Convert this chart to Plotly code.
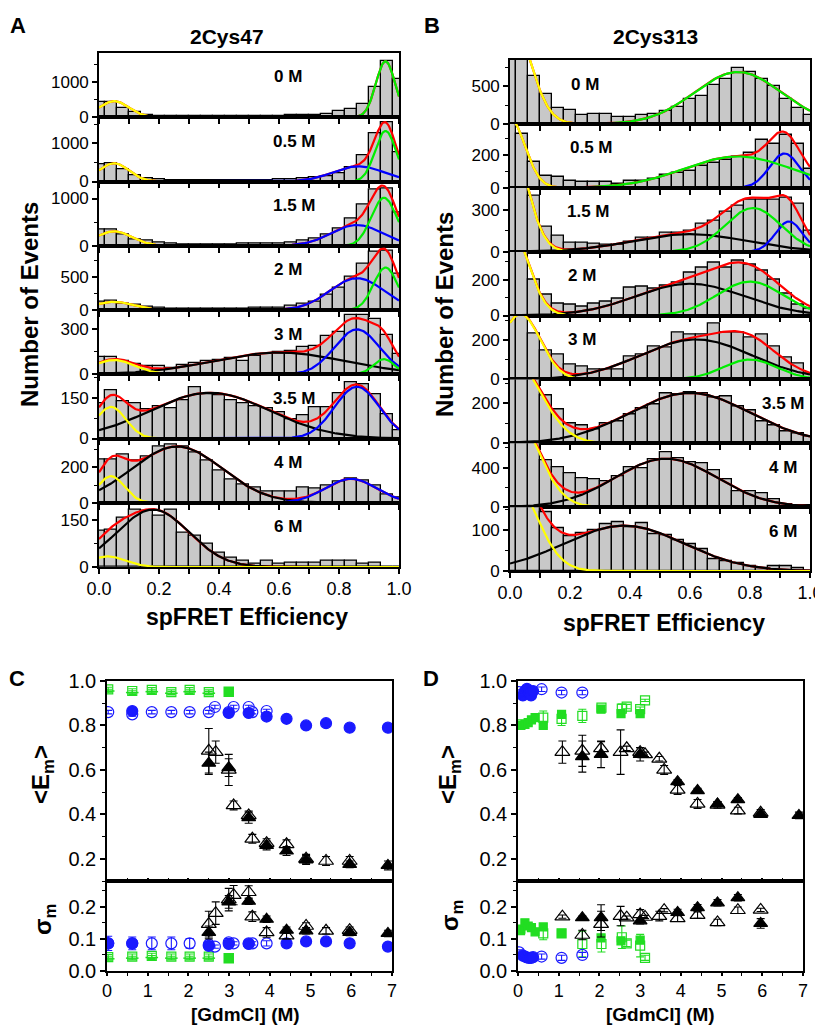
import numpy as np
import plotly.graph_objects as go

W, H = 823, 1025          # window size the picture is taken at
OFF = 8                   # default page margin around the figure
FW, FH = W - OFF, H - OFF # figure size so that it fits in the window
FONT = "Liberation Sans, Arial, sans-serif"

# ---------------- DATA ----------------
E_bins = [round(0.04 * i, 2) for i in range(26)]
conc_labels = ["0 M", "0.5 M", "1.5 M", "2 M", "3 M", "3.5 M", "4 M", "6 M"]

A_counts = [
    [434, 450, 265, 140, 75, 50, 38, 35, 33, 32, 33, 32, 34, 33, 35, 45, 55, 57, 75, 104, 170, 245, 377, 877, 1613, 1085],
    [456, 480, 325, 175, 88, 60, 45, 40, 38, 38, 40, 42, 40, 42, 45, 50, 60, 80, 105, 150, 220, 370, 690, 1260, 1570, 760],
    [340, 340, 234, 142, 113, 70, 40, 35, 33, 33, 35, 35, 38, 42, 45, 57, 78, 113, 163, 234, 355, 567, 872, 1190, 1205, 695],
    [128, 138, 100, 77, 51, 30, 22, 20, 20, 20, 20, 22, 22, 28, 30, 41, 61, 92, 128, 230, 332, 510, 700, 883, 908, 560],
    [117, 117, 86, 68, 56, 52, 45, 63, 72, 90, 97, 106, 90, 124, 135, 147, 158, 180, 192, 253, 282, 395, 395, 368, 260, 135],
    [130, 176, 138, 128, 108, 120, 112, 142, 188, 162, 160, 142, 128, 120, 112, 96, 72, 86, 114, 116, 168, 208, 198, 162, 90, 30],
    [247, 247, 271, 241, 260, 316, 327, 316, 284, 237, 181, 129, 103, 88, 65, 65, 65, 88, 79, 97, 121, 135, 125, 97, 47, 28],
    [118, 120, 158, 184, 182, 166, 185, 110, 102, 75, 45, 30, 21, 11, 19, 11, 13, 13, 13, 21, 21, 19, 11, 13, 2, 0],
]
B_counts = [
    [1100, 950, 634, 393, 214, 179, 112, 125, 125, 98, 89, 120, 125, 170, 223, 335, 366, 522, 594, 737, 692, 594, 500, 335, 214, 112],
    [500, 330, 160, 74, 64, 44, 34, 34, 38, 24, 44, 44, 54, 80, 88, 100, 130, 154, 170, 190, 214, 289, 265, 321, 265, 115],
    [600, 520, 400, 180, 113, 65, 65, 58, 48, 48, 70, 100, 100, 132, 137, 149, 202, 221, 286, 329, 372, 372, 370, 384, 341, 149],
    [500, 450, 200, 118, 65, 62, 50, 65, 79, 93, 159, 163, 153, 168, 187, 243, 271, 299, 271, 308, 284, 249, 200, 125, 62, 37],
    [450, 400, 234, 149, 127, 76, 64, 51, 51, 53, 115, 129, 171, 166, 239, 230, 230, 285, 242, 242, 214, 230, 169, 110, 81, 30],
    [450, 420, 330, 238, 170, 102, 89, 72, 102, 110, 146, 175, 197, 252, 246, 257, 249, 230, 233, 184, 167, 110, 89, 61, 48, 36],
    [900, 800, 700, 479, 400, 342, 297, 287, 263, 308, 407, 390, 485, 560, 496, 451, 441, 373, 287, 161, 161, 137, 75, 34, 24, 14],
    [250, 220, 190, 143, 105, 84, 92, 100, 113, 118, 106, 117, 90, 88, 74, 65, 52, 30, 23, 18, 11, 6, 11, 11, 7, 0],
]

# fitted Gaussian components: (colour, amplitude, centre, width)
A_fits = [
    [("yellow", 460, 0.05, 0.05), ("green", 1600, 0.955, 0.032)],
    [("yellow", 480, 0.05, 0.05), ("blue", 400, 0.865, 0.085), ("green", 1330, 0.955, 0.035)],
    [("yellow", 305, 0.05, 0.06), ("blue", 440, 0.86, 0.085), ("green", 1015, 0.95, 0.042)],
    [("yellow", 125, 0.05, 0.065), ("blue", 485, 0.86, 0.09), ("green", 648, 0.955, 0.04)],
    [("yellow", 95, 0.05, 0.07), ("black", 145, 0.6, 0.22), ("blue", 300, 0.86, 0.075), ("green", 101, 0.95, 0.035)],
    [("yellow", 116, 0.04, 0.05), ("black", 168, 0.37, 0.2), ("blue", 190, 0.86, 0.075)],
    [("yellow", 150, 0.04, 0.045), ("black", 318, 0.26, 0.15), ("blue", 135, 0.84, 0.085)],
    [("yellow", 34, 0.03, 0.06), ("black", 185, 0.18, 0.12)],
]
B_fits = [
    [("yellow", 1400, 0.0, 0.066), ("green", 690, 0.76, 0.145)],
    [("yellow", 420, 0.0, 0.05), ("green", 190, 0.76, 0.18), ("blue", 208, 0.915, 0.05)],
    [("yellow", 770, 0.0, 0.058), ("black", 125, 0.6, 0.19), ("green", 312, 0.81, 0.093), ("blue", 216, 0.93, 0.045)],
    [("yellow", 490, 0.0, 0.06), ("black", 178, 0.6, 0.18), ("green", 190, 0.8, 0.11)],
    [("yellow", 335, 0.035, 0.066), ("black", 205, 0.62, 0.185), ("green", 102, 0.8, 0.09)],
    [("yellow", 440, 0.0, 0.097), ("black", 252, 0.6, 0.2)],
    [("yellow", 1000, 0.0, 0.088), ("black", 490, 0.52, 0.17)],
    [("yellow", 230, 0.0, 0.085), ("black", 110, 0.38, 0.2)],
]
A_ymax = [1840, 1690, 1360, 980, 430, 236, 363, 207]
A_ydtick = [1000, 1000, 1000, 500, 300, 150, 200, 150]
B_ymax = [850, 388, 457, 358, 328, 320, 646, 155]
B_ydtick = [500, 200, 300, 200, 200, 200, 400, 100]
A_label_x = [0.63, 0.65, 0.65, 0.63, 0.63, 0.65, 0.63, 0.63]
B_label_x = [0.25, 0.27, 0.26, 0.24, 0.24, 0.91, 0.91, 0.91]

# Panel C (2Cys47)
C_blue_open_x = [0.03, 0.62, 1.1, 1.58, 2.03, 2.5, 2.65, 2.99, 3.11, 3.48, 3.57, 3.92]
C_blue_open_E = [0.86, 0.85, 0.86, 0.86, 0.86, 0.86, 0.883, 0.86, 0.883, 0.883, 0.86, 0.865]
C_blue_open_S = [0.086, 0.086, 0.086, 0.086, 0.086, 0.082, 0.076, 0.089, 0.086, 0.086, 0.086, 0.086]
C_blue_open_Serr = [0.022, 0.02, 0.02, 0.02, 0.015, 0.01, 0.005, 0.012, 0.005, 0.008, 0.005, 0.008]
C_blue_fill_Ex = [0.62, 2.99, 3.48, 3.92, 4.41, 4.89, 5.38, 5.96, 6.9]
C_blue_fill_E = [0.865, 0.856, 0.856, 0.84, 0.83, 0.80, 0.81, 0.79, 0.79]
C_blue_fill_Sx = [0.03, 0.62, 2.5, 2.99, 3.48, 4.41, 4.89, 5.38, 5.96, 6.9]
C_blue_fill_S = [0.086, 0.086, 0.078, 0.084, 0.084, 0.086, 0.092, 0.092, 0.086, 0.076]
C_green_open_x = [0.03, 0.62, 1.1, 1.58, 2.03, 2.5]
C_green_open_E = [0.962, 0.955, 0.96, 0.95, 0.96, 0.95]
C_green_open_S = [0.043, 0.045, 0.047, 0.045, 0.045, 0.045]
C_green_fill_x = [0.03, 0.62, 1.1, 1.58, 2.03, 2.5, 2.99]
C_green_fill_E = [0.955, 0.948, 0.952, 0.945, 0.952, 0.945, 0.952]
C_green_fill_S = [0.038, 0.04, 0.042, 0.04, 0.04, 0.04, 0.04]
C_tri_open_x = [2.5, 2.67, 2.99, 3.11, 3.48, 3.57, 3.92, 4.41, 4.89, 5.38, 5.96]
C_tri_open_E = [0.686, 0.68, 0.60, 0.44, 0.395, 0.29, 0.27, 0.265, 0.2, 0.19, 0.19]
C_tri_open_Eerr = [0.1, 0.05, 0.07, 0.02, 0.02, 0.02, 0.02, 0.02, 0.02, 0.02, 0.02]
C_tri_open_S = [0.146, 0.18, 0.222, 0.236, 0.245, 0.169, 0.12, 0.11, 0.14, 0.125, 0.127]
C_tri_open_Serr = [0.04, 0.035, 0.035, 0.03, 0.02, 0.015, 0.015, 0.01, 0.01, 0.01, 0.01]
C_tri_fill_x = [2.5, 2.99, 3.48, 3.92, 4.41, 4.89, 5.96, 6.9]
C_tri_fill_E = [0.63, 0.61, 0.385, 0.26, 0.235, 0.195, 0.175, 0.17]
C_tri_fill_Eerr = [0.05, 0.04, 0.025, 0.02, 0.02, 0.02, 0.015, 0.02]
C_tri_fill_S = [0.12, 0.215, 0.217, 0.161, 0.127, 0.125, 0.12, 0.117]
C_tri_fill_Serr = [0.02, 0.02, 0.01, 0.01, 0.01, 0.01, 0.01, 0.01]

# Panel D (2Cys313)
D_blue_fill_x = [0.12, 0.17, 0.22, 0.27, 0.32, 0.37]
D_blue_fill_E = [0.935, 0.955, 0.965, 0.945, 0.935, 0.955]
D_blue_fill_S = [0.048, 0.045, 0.042, 0.041, 0.041, 0.043]
D_blue_open_x = [0.03, 0.58, 1.07, 1.58]
D_blue_open_E = [0.95, 0.963, 0.948, 0.948]
D_blue_open_S = [0.058, 0.045, 0.041, 0.05]
D_green_fill_x = [0.07, 0.17, 0.25, 0.33, 0.42, 0.62, 1.07, 2.04, 2.53, 3.0]
D_green_fill_E = [0.80, 0.805, 0.813, 0.825, 0.835, 0.80, 0.85, 0.873, 0.853, 0.853]
D_green_fill_S = [0.13, 0.15, 0.14, 0.135, 0.122, 0.137, 0.117, 0.103, 0.094, 0.096]
D_green_open_x = [0.05, 0.62, 1.07, 1.58, 2.05, 2.55, 2.67, 3.0, 3.12]
D_green_open_E = [0.805, 0.835, 0.83, 0.843, 0.88, 0.876, 0.885, 0.873, 0.913]
D_green_open_Eerr = [0.01, 0.03, 0.03, 0.03, 0.01, 0.02, 0.01, 0.01, 0.005]
D_green_open_S = [0.127, 0.117, 0.117, 0.084, 0.084, 0.105, 0.086, 0.079, 0.041]
D_green_open_Serr = [0.01, 0.02, 0.01, 0.04, 0.025, 0.035, 0.01, 0.035, 0.008]
D_tri_open_x = [1.09, 1.58, 2.04, 2.52, 2.67, 3.0, 3.12, 3.47, 3.59, 3.92, 4.41, 4.9, 5.4, 5.96]
D_tri_open_E = [0.68, 0.686, 0.697, 0.68, 0.697, 0.68, 0.67, 0.65, 0.60, 0.51, 0.447, 0.443, 0.417, 0.407]
D_tri_open_Eerr = [0.05, 0.07, 0.03, 0.1, 0.01, 0.02, 0.01, 0.01, 0.02, 0.02, 0.02, 0.015, 0.015, 0.015]
D_tri_open_S = [0.169, 0.112, 0.146, 0.171, 0.166, 0.176, 0.168, 0.171, 0.189, 0.164, 0.174, 0.151, 0.189, 0.19]
D_tri_open_Serr = [0.005, 0.015, 0.04, 0.03, 0.005, 0.015, 0.005, 0.015, 0.005, 0.01, 0.01, 0.01, 0.01, 0.005]
D_tri_fill_x = [1.58, 2.04, 3.0, 3.92, 4.41, 4.9, 5.4, 5.96, 6.9]
D_tri_fill_E = [0.66, 0.67, 0.67, 0.547, 0.507, 0.447, 0.466, 0.40, 0.395]
D_tri_fill_Eerr = [0.07, 0.06, 0.03, 0.01, 0.01, 0.01, 0.01, 0.01, 0.015]
D_tri_fill_Sx = [1.58, 2.04, 3.0, 3.92, 4.41, 4.9, 5.4, 5.96]
D_tri_fill_S = [0.166, 0.166, 0.156, 0.182, 0.197, 0.212, 0.228, 0.148]
D_tri_fill_Serr = [0.005, 0.04, 0.01, 0.01, 0.01, 0.01, 0.01, 0.015]

# ---------------- FIGURE ----------------
COL = {"yellow": "#ffff00", "green": "#00ee00", "blue": "#0000ff", "black": "#000000", "red": "#ff0000"}
BLUE = "#1a1aff"
GREEN = "#22dd22"

fig = go.Figure()
layout = {}
annotations = []


def px(x):
    return (x - OFF) / FW


def py(y):
    return 1 - (y - OFF) / FH


def ax_name(n):
    return "" if n == 1 else str(n)


def base_axis(size=18):
    return dict(showline=True, linecolor="black", linewidth=1.6, mirror=True, automargin=False,
                showgrid=False, zeroline=False, ticks="outside", ticklen=5,
                tickwidth=1.5, tickcolor="black",
                tickfont=dict(family=FONT, size=size, color="black"))


xs = np.linspace(0, 1, 301)


def add_hist_panel(start, counts, fits, ymaxs, ydticks, label_xs, left, right, top, bottom):
    n = len(counts)
    h = (bottom - top) / n
    for i in range(n):
        k = start + i
        s = ax_name(k)
        t = top + i * h
        b = t + h
        xa = base_axis(18)
        xa.update(domain=[px(left), px(right)], range=[0, 1], anchor="y" + s,
                  dtick=0.2, tick0=0, tickformat=".1f",
                  showticklabels=(i == n - 1),
                  minor=dict(dtick=0.1, ticks="outside", ticklen=5, tickwidth=1.5, tickcolor="black"))
        ya = base_axis(17)
        ya.update(domain=[py(b), py(t)], range=[0, ymaxs[i]], anchor="x" + s,
                  dtick=ydticks[i], tick0=0,
                  minor=dict(dtick=ydticks[i] / 2, ticks="outside", ticklen=3, tickwidth=1.2, tickcolor="black"))
        layout["xaxis" + s] = xa
        layout["yaxis" + s] = ya
        fig.add_trace(go.Bar(x=E_bins, y=counts[i], width=0.04,
                             marker=dict(color="#c8c8c8", line=dict(color="black", width=1.3)),
                             xaxis="x" + s, yaxis="y" + s, hoverinfo="skip"))
        comps = []
        for (c, a, mu, sg) in fits[i]:
            comps.append((c, a * np.exp(-(xs - mu) ** 2 / (2 * sg ** 2))))
        total = sum(v for _, v in comps)
        fig.add_trace(go.Scatter(x=xs, y=total, mode="lines", line=dict(color=COL["red"], width=2.2),
                                 xaxis="x" + s, yaxis="y" + s, hoverinfo="skip"))
        order = {"black": 0, "blue": 1, "yellow": 2, "green": 3}
        for c, v in sorted(comps, key=lambda z: order[z[0]]):
            fig.add_trace(go.Scatter(x=xs, y=v, mode="lines", line=dict(color=COL[c], width=2.2),
                                     xaxis="x" + s, yaxis="y" + s, hoverinfo="skip"))
        xref = "x domain" if k == 1 else "x%d domain" % k
        yref = "y domain" if k == 1 else "y%d domain" % k
        annotations.append(dict(text="<b>%s</b>" % conc_labels[i], x=label_xs[i], y=1 - 24 / h,
                                xref=xref, yref=yref, showarrow=False, xanchor="center", yanchor="middle",
                                font=dict(family=FONT, size=17, color="black")))


add_hist_panel(1, A_counts, A_fits, A_ymax, A_ydtick, A_label_x, 99, 399, 53, 567)
add_hist_panel(9, B_counts, B_fits, B_ymax, B_ydtick, B_label_x, 510, 810, 60, 571)


def add_point_axes(k, left, right, top, bottom, yr, dtick, mdtick, xlabels, xticks):
    s = ax_name(k)
    xa = base_axis(18)
    xa.update(domain=[px(left), px(right)], range=[0, 7], anchor="y" + s, dtick=1, tick0=0,
              showticklabels=xlabels, ticks=xticks, ticklen=3,
              minor=dict(dtick=0.5, ticks=xticks, ticklen=3, tickwidth=1.3, tickcolor="black"))
    ya = base_axis(20)
    ya.update(domain=[py(bottom), py(top)], range=yr, anchor="x" + s, dtick=dtick, tick0=0,
              tickformat=".1f",
              minor=dict(dtick=mdtick, ticks="outside", ticklen=3, tickwidth=1.2, tickcolor="black"))
    layout["xaxis" + s] = xa
    layout["yaxis" + s] = ya


def pts(k, x, y, symbol, color, size, err=None, lw=1.2):
    s = ax_name(k)
    kw = {}
    if err is not None:
        kw["error_y"] = dict(type="data", array=err, color=color, thickness=1.1, width=4)
    fig.add_trace(go.Scatter(x=x, y=y, mode="markers", xaxis="x" + s, yaxis="y" + s,
                             marker=dict(symbol=symbol, size=size, color=color,
                                         line=dict(color=color, width=lw)),
                             hoverinfo="skip", **kw))


for k0, left, right in [(17, 107, 392), (19, 518, 803)]:
    add_point_axes(k0, left, right, 681, 881, [0.1, 1.0], 0.2, 0.1, False, "inside")
    add_point_axes(k0 + 1, left, right, 881, 971, [0.0, 0.28], 0.1, 0.05, True, "outside")

# Panel C
green_sym_C = ["line-ew-open"] * 6 + ["square"]
pts(17, C_green_fill_x, C_green_fill_E, green_sym_C, GREEN, 9, [0.008] * 7, lw=1.5)
pts(17, C_green_open_x, C_green_open_E, "square-open", GREEN, 9, [0.01] * 6)
pts(17, C_blue_fill_Ex, C_blue_fill_E, "circle", BLUE, 11, [0.008] * 9)
pts(17, C_blue_open_x, C_blue_open_E, "circle-open", BLUE, 11, [0.008] * 12)
pts(17, C_tri_fill_x, C_tri_fill_E, "triangle-up", "black", 12, C_tri_fill_Eerr)
pts(17, C_tri_open_x, C_tri_open_E, "triangle-up-open", "black", 13, C_tri_open_Eerr)
pts(18, C_green_fill_x, C_green_fill_S, green_sym_C, GREEN, 9, [0.006] * 7, lw=1.5)
pts(18, C_green_open_x, C_green_open_S, "square-open", GREEN, 9, [0.008] * 6)
pts(18, C_blue_open_x, C_blue_open_S, "circle-open", BLUE, 11, C_blue_open_Serr)
pts(18, C_blue_fill_Sx, C_blue_fill_S, "circle", BLUE, 11, [0.01] * 10)
pts(18, C_tri_fill_x, C_tri_fill_S, "triangle-up", "black", 12, C_tri_fill_Serr)
pts(18, C_tri_open_x, C_tri_open_S, "triangle-up-open", "black", 13, C_tri_open_Serr)

# Panel D
pts(19, D_green_fill_x, D_green_fill_E, "square", GREEN, 8, [0.01] * 10)
pts(19, D_green_open_x, D_green_open_E, "square-open", GREEN, 9, D_green_open_Eerr)
pts(19, D_blue_fill_x, D_blue_fill_E, "circle", BLUE, 11)
pts(19, D_blue_open_x, D_blue_open_E, "circle-open", BLUE, 11, [0.01] * 4)
pts(19, D_tri_fill_x, D_tri_fill_E, "triangle-up", "black", 12, D_tri_fill_Eerr)
pts(19, D_tri_open_x, D_tri_open_E, "triangle-up-open", "black", 13, D_tri_open_Eerr)
pts(20, D_green_fill_x, D_green_fill_S, "square", GREEN, 8, [0.01] * 10)
pts(20, D_green_open_x, D_green_open_S, "square-open", GREEN, 9, D_green_open_Serr)
pts(20, D_blue_fill_x, D_blue_fill_S, "circle", BLUE, 11)
pts(20, D_blue_open_x, D_blue_open_S, "circle-open", BLUE, 11, [0.008] * 4)
pts(20, D_tri_fill_Sx, D_tri_fill_S, "triangle-up", "black", 12, D_tri_fill_Serr)
pts(20, D_tri_open_x, D_tri_open_S, "triangle-up-open", "black", 13, D_tri_open_Serr)


def txt(text, x, y, size, angle=0, xanchor="center"):
    annotations.append(dict(text=text, x=px(x), y=py(y), xref="paper", yref="paper",
                            showarrow=False, xanchor=xanchor, yanchor="middle", textangle=angle,
                            font=dict(family=FONT, size=size, color="black")))


txt("<b>A</b>", 18, 25, 22)
txt("<b>B</b>", 432, 25, 22)
txt("<b>C</b>", 17, 678, 22)
txt("<b>D</b>", 431, 678, 22)
txt("<b>2Cys47</b>", 227, 37, 21)
txt("<b>2Cys313</b>", 655, 37, 21)
txt("<b>spFRET Efficiency</b>", 247, 617, 23)
txt("<b>spFRET Efficiency</b>", 664, 623, 23)
txt("<b>Number of Events</b>", 29, 305, 24, -90)
txt("<b>Number of Events</b>", 444, 315, 24, -90)
txt("<b>&lt;E<sub>m</sub>&gt;</b>", 42, 775, 24, -90)
txt("<b>&lt;E<sub>m</sub>&gt;</b>", 449, 775, 24, -90)
txt("<b>σ<sub>m</sub></b>", 44, 920, 24, -90)
txt("<b>σ<sub>m</sub></b>", 451, 916, 24, -90)
txt("<b>[GdmCl] (M)</b>", 246, 1014, 19)
txt("<b>[GdmCl] (M)</b>", 660, 1014, 19)

fig.update_layout(template="none", width=FW, height=FH, margin=dict(l=0, r=0, t=0, b=0, pad=0),
                  paper_bgcolor="white", plot_bgcolor="white", showlegend=False,
                  bargap=0, annotations=annotations, **layout)
fig.write_html("out.html")
